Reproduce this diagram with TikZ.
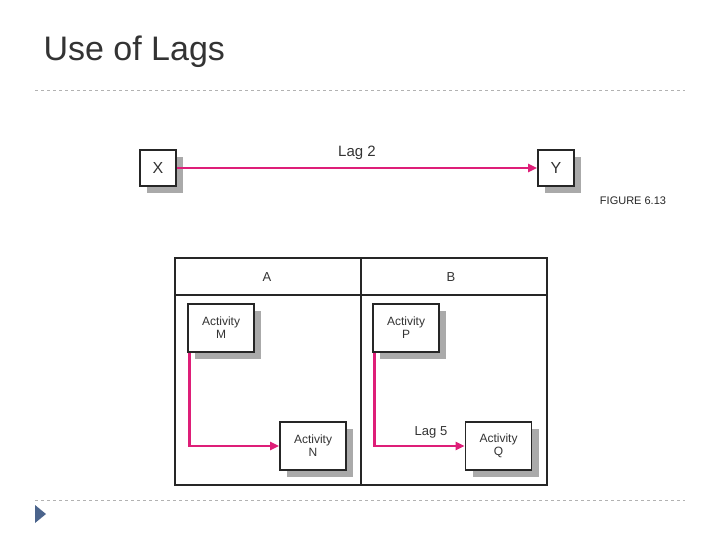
\documentclass[tikz,border=0pt]{standalone}
\usepackage{fontspec}
\setmainfont{Liberation Sans}
\usetikzlibrary{arrows.meta}
\definecolor{mag}{RGB}{222,30,120}
\definecolor{shd}{RGB}{170,170,170}
\definecolor{tri}{RGB}{75,100,140}
\begin{document}
\begin{tikzpicture}[x=1pt,y=-1pt,
  bx/.style={draw=black!85,line width=1.8pt,fill=white,align=center,font=\fontsize{12}{13}\selectfont,inner sep=0pt,text=black!80},
  lnk/.style={draw=mag,line width=2.8pt,-{Triangle[length=9pt,width=8pt]}},
  dsh/.style={draw=gray!60,dashed,line width=0.6pt}]
\useasboundingbox (0,0) rectangle (720,540);
\node[anchor=west,font=\fontsize{34}{36}\selectfont,text=black!80] (title) at (40,52) {Use of Lags};
\draw[dsh] (35,90) -- (685,90);
\draw[dsh] (35,500) -- (685,500);
\fill[tri] (35,505) -- (46,514) -- (35,523) -- cycle;
% top
\fill[shd] (147,157) rectangle (183,193);
\fill[shd] (545,157) rectangle (581,193);
\node[bx,minimum width=36pt,minimum height=36pt,font=\fontsize{16}{16}\selectfont] (X) at (158,168) {X};
\node[bx,minimum width=36pt,minimum height=36pt,font=\fontsize{16}{16}\selectfont] (Y) at (556,168) {Y};
\draw[lnk] (X) -- node[above=4pt,text=black!80,font=\fontsize{15}{16}\selectfont] (lag2) {Lag 2} (Y);
\node[font=\fontsize{11}{12}\selectfont,text=black!85] (fig) at (633,201) {FIGURE 6.13};
% table
\draw[line width=2pt,black!85] (175,258) rectangle (547,485);
\draw[line width=2pt,black!85] (175,295) -- (547,295);
\draw[line width=2pt,black!85] (361,258) -- (361,485);
\node[font=\fontsize{13}{14}\selectfont,text=black!80] (A) at (267,277) {A};
\node[font=\fontsize{13}{14}\selectfont,text=black!80] (B) at (451,277) {B};
\foreach \x/\y in {188/304,373/304,280/422,466/422}
  \fill[shd] (\x+7,\y+7) rectangle (\x+73,\y+55);
\node[bx,minimum width=66pt,minimum height=48pt] (M) at (221,328) {Activity\\M};
\node[bx,minimum width=66pt,minimum height=48pt] (P) at (406,328) {Activity\\P};
\node[bx,minimum width=66pt,minimum height=48pt] (N) at (313,446) {Activity\\N};
\node[bx,minimum width=66pt,minimum height=48pt] (Q) at (498.5,446) {Activity\\Q};
\draw[lnk] (M.south west) ++(2,0) |- (N.west);
\draw[lnk] (P.south west) ++(2,0) |- (Q.west);
\node[font=\fontsize{13}{14}\selectfont,text=black!80] (lag5) at (431,432) {Lag 5};
\end{tikzpicture}
\end{document}
